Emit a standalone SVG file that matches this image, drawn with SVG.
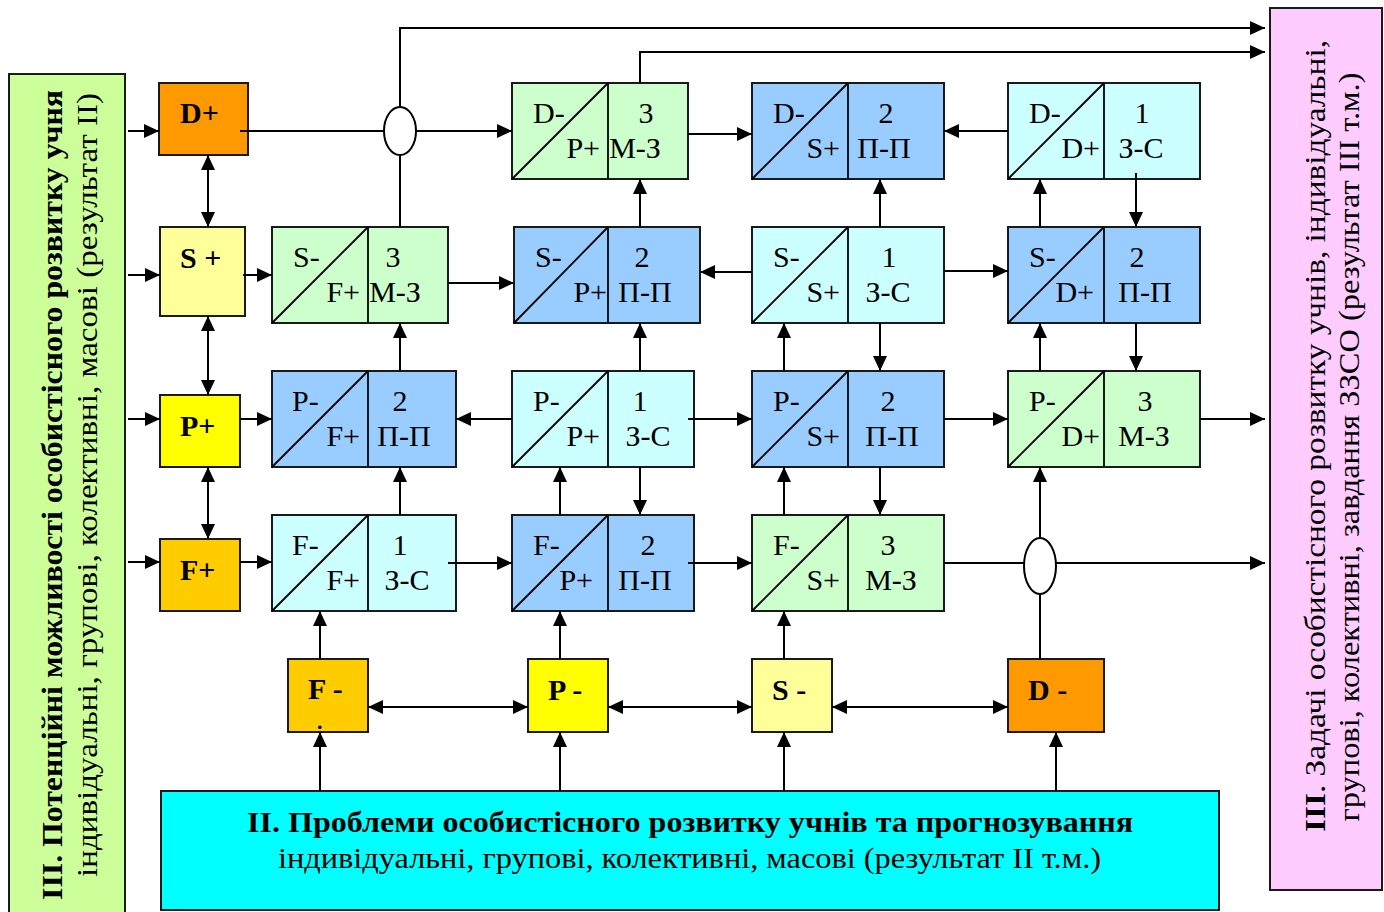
<svg xmlns="http://www.w3.org/2000/svg" width="1384" height="912" viewBox="0 0 1384 912">
<defs>
<style>
.bx{stroke:#1a1a1a;stroke-width:2}
.dg{stroke:#000;stroke-width:1.8}
.t{font-family:"Liberation Serif","Times New Roman",serif;font-size:30px;fill:#000}
.tb{font-family:"Liberation Serif","Times New Roman",serif;font-size:30px;font-weight:bold;fill:#000}
.c line,.c polyline{stroke:#000;stroke-width:2;fill:none}
.g{fill:#CCFFCC}.b{fill:#99CCFF}.y{fill:#CCFFFF}
.e{fill:#fff;stroke:#000;stroke-width:2}
</style>
<marker id="ah" markerUnits="userSpaceOnUse" markerWidth="16" markerHeight="14" refX="15" refY="7" orient="auto"><path d="M0,0 L15,7 L0,14 z" fill="#000"/></marker>
<marker id="ah2" markerUnits="userSpaceOnUse" markerWidth="16" markerHeight="14" refX="15" refY="7" orient="auto-start-reverse"><path d="M0,0 L15,7 L0,14 z" fill="#000"/></marker>
</defs>
<rect width="1384" height="912" fill="#fff"/>

<g id="left-panel">
<rect x="9" y="74" width="116" height="850" fill="#CCFF99" class="bx"/>
<text class="tb" font-size="34" transform="translate(62,495) rotate(-90)" text-anchor="middle" textLength="810" lengthAdjust="spacingAndGlyphs">ІІІ. Потенційні можливості особистісного розвитку учня</text>
<text class="t" font-size="32" transform="translate(97,485) rotate(-90)" text-anchor="middle" textLength="784" lengthAdjust="spacingAndGlyphs">індивідуальні, групові, колективні, масові (результат ІІ)</text>
</g>

<g id="right-panel">
<rect x="1270" y="8" width="112" height="882" fill="#FFCCFF" class="bx"/>
<text class="t" font-size="29" transform="translate(1325,436) rotate(-90)" text-anchor="middle" textLength="792" lengthAdjust="spacingAndGlyphs"><tspan font-weight="bold">ІІІ</tspan>. Задачі особистісного розвитку учнів, індивідуальні,</text>
<text class="t" font-size="29" transform="translate(1359,447) rotate(-90)" text-anchor="middle" textLength="749" lengthAdjust="spacingAndGlyphs">групові, колективні, завдання ЗЗСО (результат ІІІ т.м.)</text>
</g>

<g id="bottom-panel">
<rect x="161" y="791" width="1058" height="119" fill="#00FFFF" class="bx"/>
<text class="tb" x="247" y="832" textLength="886" lengthAdjust="spacingAndGlyphs">ІІ. Проблеми особистісного розвитку учнів та прогнозування</text>
<text class="t" font-size="28" x="278" y="868" textLength="823" lengthAdjust="spacingAndGlyphs">індивідуальні, групові, колективні, масові (результат ІІ т.м.)</text>
</g>

<g id="n-Dplus"><rect x="159" y="83" width="89" height="72" fill="#FF9900" class="bx"/><text class="tb" x="180" y="123">D+</text></g>
<g id="n-Splus"><rect x="160" y="227" width="85" height="89" fill="#FFFF99" class="bx"/><text class="tb" x="180" y="268">S +</text></g>
<g id="n-Pplus"><rect x="160" y="395" width="80" height="72" fill="#FFFF00" class="bx"/><text class="tb" x="180" y="436">P+</text></g>
<g id="n-Fplus"><rect x="160" y="539" width="80" height="72" fill="#FFCC00" class="bx"/><text class="tb" x="180" y="580">F+</text></g>

<g id="n-Fminus"><rect x="288" y="659" width="80" height="73" fill="#FFCC00" class="bx"/><text class="tb" x="308" y="699">F -</text><text class="t" font-size="6" x="316" y="729">.</text></g>
<g id="n-Pminus"><rect x="528" y="659" width="80" height="73" fill="#FFFF00" class="bx"/><text class="tb" x="548" y="700">P -</text></g>
<g id="n-Sminus"><rect x="752" y="659" width="80" height="73" fill="#FFFF99" class="bx"/><text class="tb" x="772" y="700">S -</text></g>
<g id="n-Dminus"><rect x="1008" y="659" width="96" height="73" fill="#FF9900" class="bx"/><text class="tb" x="1028" y="700">D -</text></g>

<g id="n-A1"><rect x="512" y="83" width="176" height="96" class="g bx"/><line x1="512" y1="179" x2="608" y2="83" class="dg"/><line x1="608" y1="83" x2="608" y2="179" class="dg"/>
<text class="t" x="533" y="123">D-</text><text class="t" x="600" y="158" text-anchor="end">P+</text><text class="t" x="646" y="123" text-anchor="middle">3</text><text class="t" x="635" y="158" text-anchor="middle">М-З</text></g>
<g id="n-A2"><rect x="752" y="83" width="192" height="96" class="b bx"/><line x1="752" y1="179" x2="848" y2="83" class="dg"/><line x1="848" y1="83" x2="848" y2="179" class="dg"/>
<text class="t" x="773" y="123">D-</text><text class="t" x="840" y="158" text-anchor="end">S+</text><text class="t" x="886" y="123" text-anchor="middle">2</text><text class="t" x="884" y="158" text-anchor="middle">П-П</text></g>
<g id="n-A3"><rect x="1008" y="83" width="192" height="96" class="y bx"/><line x1="1008" y1="179" x2="1104" y2="83" class="dg"/><line x1="1104" y1="83" x2="1104" y2="179" class="dg"/>
<text class="t" x="1029" y="123">D-</text><text class="t" x="1100" y="158" text-anchor="end">D+</text><text class="t" x="1142" y="123" text-anchor="middle">1</text><text class="t" x="1141" y="158" text-anchor="middle">З-С</text></g>

<g id="n-B0"><rect x="272" y="227" width="176" height="96" class="g bx"/><line x1="272" y1="323" x2="368" y2="227" class="dg"/><line x1="368" y1="227" x2="368" y2="323" class="dg"/>
<text class="t" x="293" y="267">S-</text><text class="t" x="360" y="302" text-anchor="end">F+</text><text class="t" x="393" y="267" text-anchor="middle">3</text><text class="t" x="395" y="302" text-anchor="middle">М-З</text></g>
<g id="n-B1"><rect x="514" y="227" width="186" height="96" class="b bx"/><line x1="514" y1="323" x2="608" y2="227" class="dg"/><line x1="608" y1="227" x2="608" y2="323" class="dg"/>
<text class="t" x="535" y="267">S-</text><text class="t" x="607" y="302" text-anchor="end">P+</text><text class="t" x="642" y="267" text-anchor="middle">2</text><text class="t" x="645" y="302" text-anchor="middle">П-П</text></g>
<g id="n-B2"><rect x="752" y="227" width="192" height="96" class="y bx"/><line x1="752" y1="323" x2="848" y2="227" class="dg"/><line x1="848" y1="227" x2="848" y2="323" class="dg"/>
<text class="t" x="773" y="267">S-</text><text class="t" x="840" y="302" text-anchor="end">S+</text><text class="t" x="889" y="267" text-anchor="middle">1</text><text class="t" x="888" y="302" text-anchor="middle">З-С</text></g>
<g id="n-B3"><rect x="1008" y="227" width="192" height="96" class="b bx"/><line x1="1008" y1="323" x2="1104" y2="227" class="dg"/><line x1="1104" y1="227" x2="1104" y2="323" class="dg"/>
<text class="t" x="1029" y="267">S-</text><text class="t" x="1094" y="302" text-anchor="end">D+</text><text class="t" x="1137" y="267" text-anchor="middle">2</text><text class="t" x="1145" y="302" text-anchor="middle">П-П</text></g>

<g id="n-C0"><rect x="272" y="371" width="184" height="96" class="b bx"/><line x1="272" y1="467" x2="368" y2="371" class="dg"/><line x1="368" y1="371" x2="368" y2="467" class="dg"/>
<text class="t" x="292" y="411">P-</text><text class="t" x="360" y="446" text-anchor="end">F+</text><text class="t" x="400" y="411" text-anchor="middle">2</text><text class="t" x="404" y="446" text-anchor="middle">П-П</text></g>
<g id="n-C1"><rect x="512" y="371" width="182" height="96" class="y bx"/><line x1="512" y1="467" x2="608" y2="371" class="dg"/><line x1="608" y1="371" x2="608" y2="467" class="dg"/>
<text class="t" x="533" y="411">P-</text><text class="t" x="600" y="446" text-anchor="end">P+</text><text class="t" x="640" y="411" text-anchor="middle">1</text><text class="t" x="648" y="446" text-anchor="middle">З-С</text></g>
<g id="n-C2"><rect x="752" y="371" width="192" height="96" class="b bx"/><line x1="752" y1="467" x2="848" y2="371" class="dg"/><line x1="848" y1="371" x2="848" y2="467" class="dg"/>
<text class="t" x="773" y="411">P-</text><text class="t" x="840" y="446" text-anchor="end">S+</text><text class="t" x="888" y="411" text-anchor="middle">2</text><text class="t" x="892" y="446" text-anchor="middle">П-П</text></g>
<g id="n-C3"><rect x="1008" y="371" width="192" height="96" class="g bx"/><line x1="1008" y1="467" x2="1104" y2="371" class="dg"/><line x1="1104" y1="371" x2="1104" y2="467" class="dg"/>
<text class="t" x="1029" y="411">P-</text><text class="t" x="1100" y="446" text-anchor="end">D+</text><text class="t" x="1145" y="411" text-anchor="middle">3</text><text class="t" x="1144" y="446" text-anchor="middle">М-З</text></g>

<g id="n-D0"><rect x="272" y="515" width="184" height="96" class="y bx"/><line x1="272" y1="611" x2="368" y2="515" class="dg"/><line x1="368" y1="515" x2="368" y2="611" class="dg"/>
<text class="t" x="292" y="555">F-</text><text class="t" x="360" y="590" text-anchor="end">F+</text><text class="t" x="400" y="555" text-anchor="middle">1</text><text class="t" x="407" y="590" text-anchor="middle">З-С</text></g>
<g id="n-D1"><rect x="512" y="515" width="182" height="96" class="b bx"/><line x1="512" y1="611" x2="608" y2="515" class="dg"/><line x1="608" y1="515" x2="608" y2="611" class="dg"/>
<text class="t" x="533" y="555">F-</text><text class="t" x="593" y="590" text-anchor="end">P+</text><text class="t" x="648" y="555" text-anchor="middle">2</text><text class="t" x="645" y="590" text-anchor="middle">П-П</text></g>
<g id="n-D2"><rect x="752" y="515" width="192" height="96" class="g bx"/><line x1="752" y1="611" x2="848" y2="515" class="dg"/><line x1="848" y1="515" x2="848" y2="611" class="dg"/>
<text class="t" x="773" y="555">F-</text><text class="t" x="840" y="590" text-anchor="end">S+</text><text class="t" x="888" y="555" text-anchor="middle">3</text><text class="t" x="891" y="590" text-anchor="middle">М-З</text></g>

<g id="connectors" class="c">
<line x1="128" y1="131" x2="159" y2="131" marker-end="url(#ah)"/>
<line x1="128" y1="275" x2="160" y2="275" marker-end="url(#ah)"/>
<line x1="128" y1="419" x2="160" y2="419" marker-end="url(#ah)"/>
<line x1="128" y1="562" x2="160" y2="562" marker-end="url(#ah)"/>
<line x1="208" y1="155" x2="208" y2="227" marker-start="url(#ah2)" marker-end="url(#ah2)"/>
<line x1="208" y1="316" x2="208" y2="395" marker-start="url(#ah2)" marker-end="url(#ah2)"/>
<line x1="208" y1="467" x2="208" y2="539" marker-start="url(#ah2)" marker-end="url(#ah2)"/>
<line x1="240" y1="131" x2="512" y2="131" marker-end="url(#ah)"/>
<polyline points="400,227 400,28 1265,28" marker-end="url(#ah)"/>
<polyline points="640,83 640,52 1265,52" marker-end="url(#ah)"/>
<line x1="688" y1="134" x2="752" y2="134" marker-end="url(#ah)"/>
<line x1="1008" y1="131" x2="944" y2="131" marker-end="url(#ah)"/>
<line x1="1136" y1="173" x2="1136" y2="227" marker-end="url(#ah)"/>
<line x1="1040" y1="227" x2="1040" y2="179" marker-end="url(#ah)"/>
<line x1="880" y1="227" x2="880" y2="179" marker-end="url(#ah)"/>
<line x1="640" y1="227" x2="640" y2="179" marker-end="url(#ah)"/>
<line x1="243" y1="275" x2="272" y2="275" marker-end="url(#ah)"/>
<line x1="448" y1="283" x2="514" y2="283" marker-end="url(#ah)"/>
<line x1="752" y1="272" x2="700" y2="272" marker-end="url(#ah)"/>
<line x1="944" y1="271" x2="1008" y2="271" marker-end="url(#ah)"/>
<line x1="400" y1="371" x2="400" y2="323" marker-end="url(#ah)"/>
<line x1="640" y1="371" x2="640" y2="323" marker-end="url(#ah)"/>
<line x1="784" y1="371" x2="784" y2="323" marker-end="url(#ah)"/>
<line x1="880" y1="323" x2="880" y2="371" marker-end="url(#ah)"/>
<line x1="1040" y1="371" x2="1040" y2="323" marker-end="url(#ah)"/>
<line x1="1136" y1="323" x2="1136" y2="371" marker-end="url(#ah)"/>
<line x1="240" y1="419" x2="272" y2="419" marker-end="url(#ah)"/>
<line x1="512" y1="419" x2="456" y2="419" marker-end="url(#ah)"/>
<line x1="688" y1="419" x2="752" y2="419" marker-end="url(#ah)"/>
<line x1="944" y1="419" x2="1008" y2="419" marker-end="url(#ah)"/>
<line x1="1200" y1="419" x2="1265" y2="419" marker-end="url(#ah)"/>
<line x1="400" y1="515" x2="400" y2="467" marker-end="url(#ah)"/>
<line x1="560" y1="515" x2="560" y2="467" marker-end="url(#ah)"/>
<line x1="640" y1="467" x2="640" y2="515" marker-end="url(#ah)"/>
<line x1="784" y1="515" x2="784" y2="467" marker-end="url(#ah)"/>
<line x1="880" y1="467" x2="880" y2="515" marker-end="url(#ah)"/>
<line x1="1040" y1="659" x2="1040" y2="467" marker-end="url(#ah)"/>
<line x1="240" y1="562" x2="272" y2="562" marker-end="url(#ah)"/>
<line x1="448" y1="563" x2="512" y2="563" marker-end="url(#ah)"/>
<line x1="688" y1="563" x2="752" y2="563" marker-end="url(#ah)"/>
<line x1="944" y1="563" x2="1265" y2="563" marker-end="url(#ah)"/>
<line x1="320" y1="659" x2="320" y2="611" marker-end="url(#ah)"/>
<line x1="560" y1="659" x2="560" y2="611" marker-end="url(#ah)"/>
<line x1="784" y1="659" x2="784" y2="611" marker-end="url(#ah)"/>
<line x1="368" y1="707" x2="528" y2="707" marker-start="url(#ah2)" marker-end="url(#ah2)"/>
<line x1="608" y1="707" x2="752" y2="707" marker-start="url(#ah2)" marker-end="url(#ah2)"/>
<line x1="832" y1="707" x2="1008" y2="707" marker-start="url(#ah2)" marker-end="url(#ah2)"/>
<line x1="320" y1="791" x2="320" y2="732" marker-end="url(#ah)"/>
<line x1="560" y1="791" x2="560" y2="732" marker-end="url(#ah)"/>
<line x1="784" y1="791" x2="784" y2="732" marker-end="url(#ah)"/>
<line x1="1056" y1="791" x2="1056" y2="732" marker-end="url(#ah)"/>
</g>

<g id="junctions">
<ellipse cx="400" cy="131" rx="16" ry="24" class="e"/>
<ellipse cx="1040" cy="566" rx="16" ry="28" class="e"/>
</g>
</svg>
